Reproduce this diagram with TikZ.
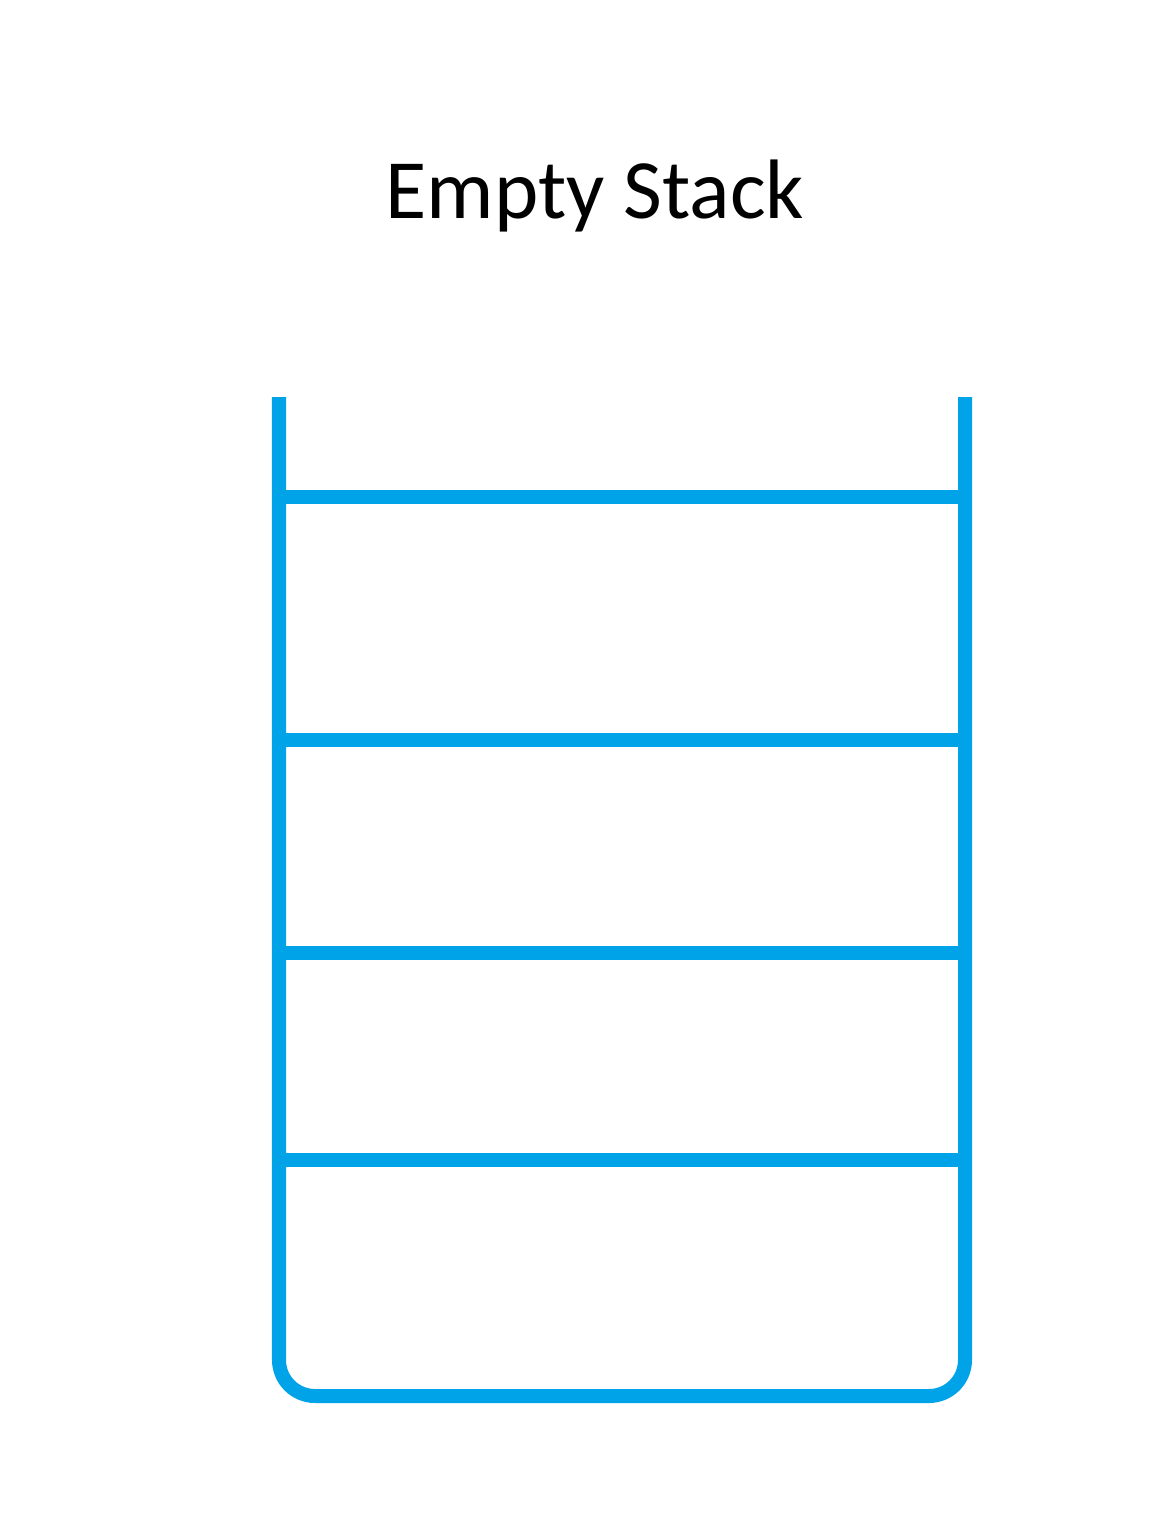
\documentclass[tikz,border=0pt]{standalone}
\usepackage{fontspec}
\setmainfont{Carlito}
\usepackage{xcolor}
\definecolor{stack_blue}{HTML}{00A2E8}

\begin{document}
\begin{tikzpicture}[
                x=0.01cm,
                y=-0.01cm,
                line cap=butt,
                line join=round,
                wall/.style={stack_blue, line width=0.14cm},
            ]
            % Fix the page size
            \useasboundingbox (0,0) rectangle (1171,1536);

            % Define the stack geometry
            \def\xl{279}
            \def\xr{965}
            \def\ytop{397}
            \def\ybot{1396}
            \def\rad{36}

            % Title
            \node[anchor=base, inner sep=0pt, font=\fontsize{24}{28}\selectfont] (title) at (595,218) {Empty Stack};

            % Corners of the stack
            \coordinate (topleft) at (\xl,\ytop);
            \coordinate (topright) at (\xr,\ytop);

            % Draw the open container
            \draw[wall, rounded corners=\rad*0.01cm] (topleft) -- (\xl,\ybot) -- (\xr,\ybot) -- (topright);

            % Draw the shelves
            \foreach \y/\name in {497/a, 740/b, 953/c, 1160/d} {
                \coordinate (shelf\name l) at (\xl,\y);
                \coordinate (shelf\name r) at (\xr,\y);
                \draw[wall] (shelf\name l) -- (shelf\name r);
            }
        \end{tikzpicture}
\end{document}
